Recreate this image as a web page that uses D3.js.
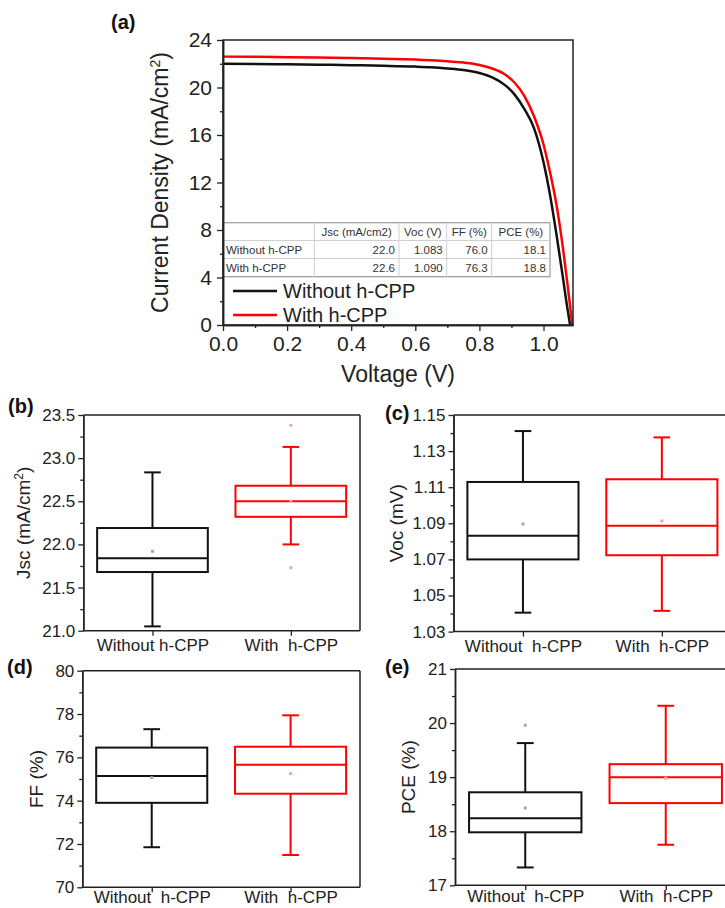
<!DOCTYPE html>
<html><head><meta charset="utf-8">
<script src="https://cdn.jsdelivr.net/npm/d3@7"></script>
<style>
body{margin:0;background:#fff}
svg{font-family:"Liberation Sans",Arial,sans-serif}
text{white-space:pre}
</style></head><body>
<svg id="chart" width="725" height="908"></svg>
<script>
// ---------- DATA ----------
// Panel (a): J-V curves
const voltageWithout = [0, 0.1, 0.2, 0.3, 0.4, 0.5, 0.6, 0.65, 0.7, 0.75, 0.8, 0.84, 0.88, 0.91, 0.94, 0.97, 1.0, 1.02, 1.04, 1.06, 1.07, 1.083];
const currentWithout = [22.0, 21.98, 21.95, 21.92, 21.88, 21.83, 21.76, 21.7, 21.6, 21.47, 21.22, 20.85, 20.2, 19.4, 18.2, 16.6, 13.7, 11.0, 7.7, 4.1, 2.2, 0];
const voltageWith = [0, 0.1, 0.2, 0.3, 0.4, 0.5, 0.6, 0.65, 0.7, 0.75, 0.8, 0.84, 0.88, 0.91, 0.94, 0.97, 1.0, 1.02, 1.04, 1.06, 1.075, 1.090];
const currentWith = [22.6, 22.58, 22.55, 22.52, 22.48, 22.43, 22.35, 22.3, 22.22, 22.1, 21.9, 21.6, 21.1, 20.4, 19.3, 17.6, 15.2, 12.9, 10.2, 6.6, 3.4, 0];
const seriesNames = ["Without h-CPP", "With h-CPP"];
const voltageTicks = [0, 0.2, 0.4, 0.6, 0.8, 1.0];
const currentTicks = [0, 4, 8, 12, 16, 20, 24];

// Table in panel (a)
const tableHeader = ["", "Jsc (mA/cm2)", "Voc (V)", "FF (%)", "PCE (%)"];
const tableRowLabels = ["Without h-CPP", "With h-CPP"];
const tableJsc = ["22.0", "22.6"];
const tableVoc = ["1.083", "1.090"];
const tableFF = ["76.0", "76.3"];
const tablePCE = ["18.1", "18.8"];

// Box plots: [whiskerLow, Q1, median, Q3, whiskerHigh]
const categoriesB = ["Without h-CPP", "With  h-CPP"];
const categoriesCDE = ["Without  h-CPP", "With  h-CPP"];
const jscWithout = [21.05, 21.68, 21.84, 22.19, 22.835];
const jscWith = [22.0, 22.32, 22.5, 22.68, 23.13];
const jscMeans = [21.92, 22.5];
const jscOutliersWith = [23.38, 21.73];
const vocWithout = [1.0405, 1.0700, 1.0831, 1.1129, 1.1411];
const vocWith = [1.0415, 1.0723, 1.0887, 1.1144, 1.1376];
const vocMeans = [1.0896, 1.0913];
const ffWithout = [71.85, 73.9, 75.14, 76.45, 77.3];
const ffWith = [71.49, 74.32, 75.66, 76.49, 77.94];
const ffMeans = [75.06, 75.25];
const pceWithout = [17.33, 17.98, 18.24, 18.72, 19.63];
const pceWith = [17.75, 18.52, 19.0, 19.24, 20.32];
const pceMeans = [18.43, 18.98];
const pceOutliersWithout = [19.96];

const jscTicks = [21.0, 21.5, 22.0, 22.5, 23.0, 23.5];
const jscMinor = [21.25, 21.75, 22.25, 22.75, 23.25];
const vocTicks = [1.03, 1.05, 1.07, 1.09, 1.11, 1.13, 1.15];
const vocMinor = [1.04, 1.06, 1.08, 1.10, 1.12, 1.14];
const ffTicks = [70, 72, 74, 76, 78, 80];
const ffMinor = [71, 73, 75, 77, 79];
const pceTicks = [17, 18, 19, 20, 21];
const pceMinor = [17.5, 18.5, 19.5, 20.5];

// ---------- DRAWING ----------
const svg = d3.select("#chart");
const AX = "#222";
const BLACK = "#111";
const RED = "#f00";

function styleAxis(g, fs) {
  g.selectAll("path.domain").attr("stroke", AX).attr("stroke-width", 1.5);
  g.selectAll(".tick line").attr("stroke", AX).attr("stroke-width", 1.3);
  g.selectAll(".tick text").attr("fill", "#222").style("font-size", fs + "px")
    .style("font-family", '"Liberation Sans",Arial,sans-serif');
}

// ===== Panel (a) =====
const A = {l: 223, r: 573, t: 40, b: 325};
const xA = d3.scaleLinear().domain([0, 1.092]).range([A.l, A.r]);
const yA = d3.scaleLinear().domain([0, 24]).range([A.b, A.t]);
const ga = svg.append("g");

// table (drawn inside plot)
const colX = [A.l, 314.3, 399, 446.7, 491.7, 550];
const rowY = [222.7, 240.5, 258.5, 276.7];
const tg = ga.append("g");
tg.append("rect").attr("x", colX[0]).attr("y", rowY[0]).attr("width", colX[5] - colX[0])
  .attr("height", rowY[3] - rowY[0]).attr("fill", "#fff").attr("stroke", "#9a9a9a").attr("stroke-width", 1.2);
for (let i = 1; i < 5; i++) tg.append("line").attr("x1", colX[i]).attr("x2", colX[i]).attr("y1", rowY[0]).attr("y2", rowY[3]).attr("stroke", "#cfcfcf");
for (let j = 1; j < 3; j++) tg.append("line").attr("x1", colX[0]).attr("x2", colX[5]).attr("y1", rowY[j]).attr("y2", rowY[j]).attr("stroke", "#cfcfcf");
const tfs = 11.5;
tableHeader.forEach((h, i) => {
  if (!h) return;
  tg.append("text").attr("x", (colX[i] + colX[i + 1]) / 2).attr("y", (rowY[0] + rowY[1]) / 2 + 4)
    .attr("text-anchor", "middle").attr("font-size", tfs).attr("fill", "#333").text(h);
});
const tableCols = [tableJsc, tableVoc, tableFF, tablePCE];
tableRowLabels.forEach((lab, r) => {
  const yy = (rowY[r + 1] + rowY[r + 2]) / 2 + 4;
  tg.append("text").attr("x", colX[0] + 3).attr("y", yy).attr("font-size", tfs).attr("fill", "#333").text(lab);
  tableCols.forEach((col, c) => {
    tg.append("text").attr("x", colX[c + 2] - 4).attr("y", yy).attr("text-anchor", "end")
      .attr("font-size", tfs).attr("fill", "#333").text(col[r]);
  });
});

// curves
const lineA = d3.line().x(d => xA(d[0])).y(d => yA(d[1])).curve(d3.curveMonotoneX);
ga.append("path").datum(voltageWithout.map((v, i) => [v, currentWithout[i]]))
  .attr("d", lineA).attr("fill", "none").attr("stroke", BLACK).attr("stroke-width", 2.5);
ga.append("path").datum(voltageWith.map((v, i) => [v, currentWith[i]]))
  .attr("d", lineA).attr("fill", "none").attr("stroke", RED).attr("stroke-width", 2.5);

// frame
ga.append("rect").attr("x", A.l).attr("y", A.t).attr("width", A.r - A.l).attr("height", A.b - A.t)
  .attr("fill", "none").attr("stroke", AX).attr("stroke-width", 1.5);

// axes
const axAy = ga.append("g").attr("transform", `translate(${A.l},0)`)
  .call(d3.axisLeft(yA).tickValues(currentTicks).tickFormat(d3.format("d")).tickSize(6).tickSizeOuter(0).tickPadding(5));
styleAxis(axAy, 21);
const axAyMinor = ga.append("g").attr("transform", `translate(${A.l},0)`)
  .call(d3.axisLeft(yA).tickValues([2, 6, 10, 14, 18, 22]).tickFormat("").tickSize(3).tickSizeOuter(0));
styleAxis(axAyMinor, 21);
const axAx = ga.append("g").attr("transform", `translate(0,${A.b})`)
  .call(d3.axisBottom(xA).tickValues(voltageTicks).tickFormat(d3.format(".1f")).tickSize(6).tickSizeOuter(0).tickPadding(5));
styleAxis(axAx, 21);
const axAxMinor = ga.append("g").attr("transform", `translate(0,${A.b})`)
  .call(d3.axisBottom(xA).tickValues([0.1, 0.3, 0.5, 0.7, 0.9]).tickFormat("").tickSize(3).tickSizeOuter(0));
styleAxis(axAxMinor, 21);

// titles
const yt = ga.append("text").attr("transform", `translate(168,${(A.t + A.b) / 2}) rotate(-90)`)
  .attr("text-anchor", "middle").attr("font-size", 23).attr("fill", "#222");
yt.append("tspan").text("Current Density (mA/cm");
yt.append("tspan").attr("baseline-shift", "super").attr("font-size", 14).text("2");
yt.append("tspan").text(")");
ga.append("text").attr("x", (A.l + A.r) / 2).attr("y", 382).attr("text-anchor", "middle")
  .attr("font-size", 23).attr("fill", "#222").text("Voltage (V)");
ga.append("text").attr("x", 111).attr("y", 29).attr("font-size", 20).attr("font-weight", "bold").attr("fill", "#111").text("(a)");

// legend
const legColors = [BLACK, RED];
seriesNames.forEach((n, i) => {
  const ly = 291 + i * 24;
  ga.append("line").attr("x1", 233).attr("x2", 277).attr("y1", ly).attr("y2", ly)
    .attr("stroke", legColors[i]).attr("stroke-width", 2.5);
  ga.append("text").attr("x", 283).attr("y", ly + 7).attr("font-size", 20).attr("fill", "#222").text(n);
});

// ===== Box panels =====
function boxPanel(cfg) {
  const g = svg.append("g");
  const x = d3.scalePoint().domain(cfg.cats).range([cfg.l, cfg.r]).padding(0.5);
  const y = d3.scaleLinear().domain(cfg.domain).range([cfg.b, cfg.t]);
  const step = x.step();
  const bw = step * 0.8, cw = step * 0.12;
  const colors = [BLACK, RED];
  const meanColors = ["#a8a8a8", "#f3a6a6"];
  [cfg.s0, cfg.s1].forEach((s, i) => {
    const cx = x(cfg.cats[i]);
    const c = colors[i];
    const sw = 2;
    g.append("line").attr("x1", cx).attr("x2", cx).attr("y1", y(s[0])).attr("y2", y(s[1])).attr("stroke", c).attr("stroke-width", sw);
    g.append("line").attr("x1", cx).attr("x2", cx).attr("y1", y(s[3])).attr("y2", y(s[4])).attr("stroke", c).attr("stroke-width", sw);
    g.append("line").attr("x1", cx - cw / 2).attr("x2", cx + cw / 2).attr("y1", y(s[0])).attr("y2", y(s[0])).attr("stroke", c).attr("stroke-width", sw);
    g.append("line").attr("x1", cx - cw / 2).attr("x2", cx + cw / 2).attr("y1", y(s[4])).attr("y2", y(s[4])).attr("stroke", c).attr("stroke-width", sw);
    g.append("rect").attr("x", cx - bw / 2).attr("y", y(s[3])).attr("width", bw).attr("height", y(s[1]) - y(s[3]))
      .attr("fill", "none").attr("stroke", c).attr("stroke-width", sw);
    g.append("line").attr("x1", cx - bw / 2).attr("x2", cx + bw / 2).attr("y1", y(s[2])).attr("y2", y(s[2])).attr("stroke", c).attr("stroke-width", sw);
    g.append("rect").attr("x", cx - 1.5).attr("y", y(cfg.means[i]) - 1.5).attr("width", 3).attr("height", 3).attr("fill", meanColors[i]);
    (cfg.outliers[i] || []).forEach(o => {
      g.append("rect").attr("x", cx - 1.5).attr("y", y(o) - 1.5).attr("width", 3).attr("height", 3).attr("fill", meanColors[i]);
    });
  });
  // frame
  g.append("line").attr("x1", cfg.l).attr("x2", cfg.r).attr("y1", cfg.t).attr("y2", cfg.t).attr("stroke", AX).attr("stroke-width", 1.5);
  g.append("line").attr("x1", cfg.r).attr("x2", cfg.r).attr("y1", cfg.t).attr("y2", cfg.b).attr("stroke", AX).attr("stroke-width", 1.5);
  const ay = g.append("g").attr("transform", `translate(${cfg.l},0)`)
    .call(d3.axisLeft(y).tickValues(cfg.ticks).tickFormat(d3.format(cfg.fmt)).tickSize(5).tickSizeOuter(0).tickPadding(3));
  styleAxis(ay, 17);
  const aym = g.append("g").attr("transform", `translate(${cfg.l},0)`)
    .call(d3.axisLeft(y).tickValues(cfg.minor).tickFormat("").tickSize(3).tickSizeOuter(0));
  styleAxis(aym, 17);
  const ax = g.append("g").attr("transform", `translate(0,${cfg.b})`)
    .call(d3.axisBottom(x).tickSize(5).tickSizeOuter(0).tickPadding(cfg.xPad));
  ax.select("path.domain").attr("d", `M${cfg.l},0H${cfg.r}`);
  styleAxis(ax, 17);
  const tt = g.append("text").attr("transform", `translate(${cfg.titleX},${(cfg.t + cfg.b) / 2}) rotate(-90)`)
    .attr("text-anchor", "middle").attr("font-size", 19).attr("fill", "#222");
  cfg.title.forEach(p => {
    const ts = tt.append("tspan").text(p.t);
    if (p.sup) ts.attr("baseline-shift", "super").attr("font-size", 12);
  });
  g.append("text").attr("x", cfg.labX).attr("y", cfg.labY).attr("font-size", 20).attr("font-weight", "bold")
    .attr("fill", "#111").text(cfg.label);
}

boxPanel({l: 83.3, r: 360, t: 415, b: 630.7, cats: categoriesB, domain: [21, 23.5], xPad: 3,
  ticks: jscTicks, minor: jscMinor, fmt: ".1f", s0: jscWithout, s1: jscWith, means: jscMeans,
  outliers: [[], jscOutliersWith], title: [{t: "Jsc (mA/cm"}, {t: "2", sup: true}, {t: ")"}],
  titleX: 30, label: "(b)", labX: 8, labY: 413});
boxPanel({l: 453.5, r: 731.3, t: 415, b: 631.6, cats: categoriesCDE, domain: [1.03, 1.15], xPad: 3,
  ticks: vocTicks, minor: vocMinor, fmt: ".2f", s0: vocWithout, s1: vocWith, means: vocMeans,
  outliers: [[], []], title: [{t: "Voc (mV)"}], titleX: 403, label: "(c)", labX: 385, labY: 420});
boxPanel({l: 82.3, r: 360, t: 670.7, b: 887.3, cats: categoriesCDE, domain: [70, 80], xPad: -1,
  ticks: ffTicks, minor: ffMinor, fmt: "d", s0: ffWithout, s1: ffWith, means: ffMeans,
  outliers: [[], []], title: [{t: "FF (%)"}], titleX: 43, label: "(d)", labX: 7, labY: 674});
boxPanel({l: 455, r: 736, t: 669, b: 885.3, cats: categoriesCDE, domain: [17, 21], xPad: 0,
  ticks: pceTicks, minor: pceMinor, fmt: "d", s0: pceWithout, s1: pceWith, means: pceMeans,
  outliers: [pceOutliersWithout, []], title: [{t: "PCE (%)"}], titleX: 415, label: "(e)", labX: 385, labY: 674});
</script>
</body></html>
